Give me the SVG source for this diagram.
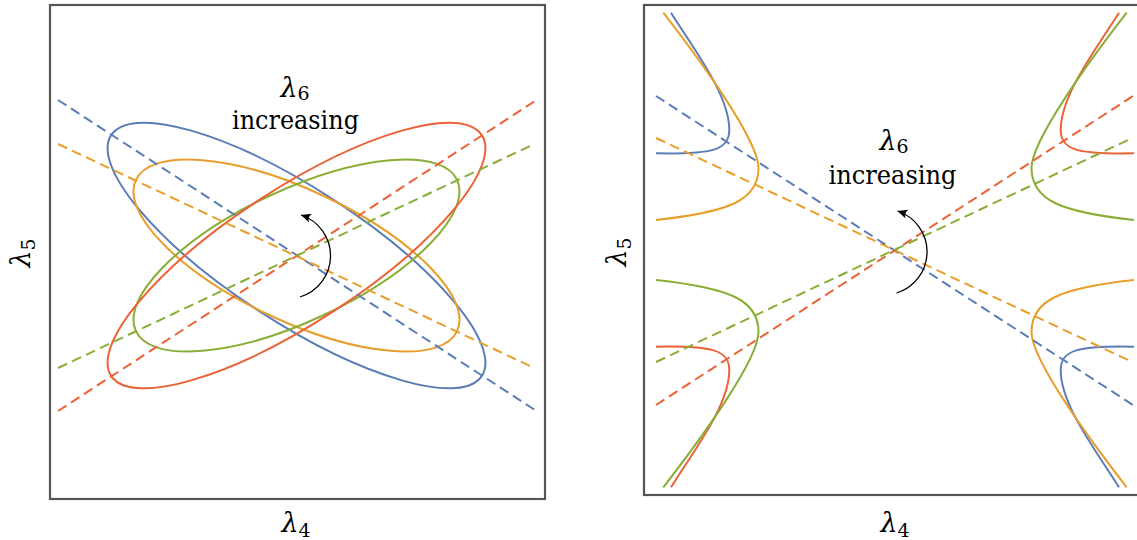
<svg xmlns="http://www.w3.org/2000/svg" width="1137" height="540" viewBox="0 0 1137 540">
<style>
.frame{fill:none;stroke:#555;stroke-width:2.2}
.dash{fill:none;stroke-width:2;stroke-dasharray:10 5.5}
.curve{fill:none;stroke-width:2}
.b{stroke:#5A7DB7}
.o{stroke:#E89E2A}
.r{stroke:#EC6135}
.g{stroke:#88AE36}
.arrow{fill:none;stroke:#000;stroke-width:1.3}
.t{font-family:"DejaVu Serif","Liberation Serif",serif;fill:#000}
.lam{font-style:italic}
</style>
<defs>
<marker id="ah" markerUnits="userSpaceOnUse" markerWidth="14" markerHeight="12" viewBox="-11 -6 13 12" refX="0" refY="0" orient="auto">
<path d="M0,0 L-10,-4.5 Q-6.5,0 -10,4.5 Z" fill="#000"/>
</marker>
<path id="hb" d="M671,12.7 C695,51 729.3,95 729.3,130 C729.3,150 712,154.5 656,153.3"/>
<path id="ho" d="M663.3,12.7 C700,60 758.5,140 758.5,168 C758.5,200 730,212 656,220"/>
</defs>

<g id="left-panel">
<rect class="frame" x="50" y="5" width="495" height="494"/>
<g id="left-ellipses">
<ellipse class="curve b" cx="296.5" cy="255.5" rx="221" ry="67" transform="rotate(33 296.5 255.5)"/>
<ellipse class="curve o" cx="296.5" cy="255.5" rx="177.5" ry="65.5" transform="rotate(25.2 296.5 255.5)"/>
<ellipse class="curve g" cx="296.5" cy="255.5" rx="177.5" ry="65.5" transform="rotate(-25.2 296.5 255.5)"/>
<ellipse class="curve r" cx="296.5" cy="255.5" rx="221" ry="67" transform="rotate(-33 296.5 255.5)"/>
</g>
<g id="left-lines">
<line class="dash b" x1="58" y1="100" x2="535" y2="410"/>
<line class="dash o" x1="58" y1="144" x2="530" y2="366"/>
<line class="dash r" x1="58" y1="411" x2="535" y2="101"/>
<line class="dash g" x1="58" y1="368" x2="530" y2="146"/>
</g>
<g id="left-arrow">
<path class="arrow" d="M300,297 A43,43 0 0 0 301,215" marker-end="url(#ah)"/>
</g>
<g id="left-label">
<text class="t" x="295" y="97" font-size="27" text-anchor="middle"><tspan class="lam">λ</tspan><tspan font-size="19" dy="3">6</tspan></text>
<text class="t" x="295.5" y="129" font-size="26" text-anchor="middle" textLength="127" lengthAdjust="spacingAndGlyphs">increasing</text>
</g>
<text class="t" x="296" y="532" font-size="27" text-anchor="middle"><tspan class="lam">λ</tspan><tspan font-size="19" dy="5">4</tspan></text>
<text class="t" transform="translate(30,253) rotate(-90)" font-size="27" text-anchor="middle"><tspan class="lam">λ</tspan><tspan font-size="19" dy="5">5</tspan></text>
</g>

<g id="right-panel">
<rect class="frame" x="644" y="5" width="496" height="490"/>
<g id="right-hyperbolas">
<use href="#hb" class="curve b"/>
<use href="#hb" class="curve b" transform="rotate(180 895 250)"/>
<use href="#ho" class="curve o"/>
<use href="#ho" class="curve o" transform="rotate(180 895 250)"/>
<use href="#hb" class="curve r" transform="matrix(-1 0 0 1 1790 0)"/>
<use href="#hb" class="curve r" transform="matrix(1 0 0 -1 0 500)"/>
<use href="#ho" class="curve g" transform="matrix(-1 0 0 1 1790 0)"/>
<use href="#ho" class="curve g" transform="matrix(1 0 0 -1 0 500)"/>
</g>
<g id="right-lines">
<line class="dash b" x1="656" y1="96" x2="1133" y2="405"/>
<line class="dash o" x1="656" y1="138" x2="1128" y2="360"/>
<line class="dash r" x1="656" y1="405" x2="1133" y2="96"/>
<line class="dash g" x1="656" y1="362" x2="1128" y2="140"/>
</g>
<g id="right-arrow">
<path class="arrow" d="M896.5,293 A43,43 0 0 0 897.5,211" marker-end="url(#ah)"/>
</g>
<g id="right-label">
<text class="t" x="894" y="150" font-size="27" text-anchor="middle"><tspan class="lam">λ</tspan><tspan font-size="19" dy="3">6</tspan></text>
<text class="t" x="892.5" y="184" font-size="26" text-anchor="middle" textLength="128" lengthAdjust="spacingAndGlyphs">increasing</text>
</g>
<text class="t" x="895" y="532" font-size="27" text-anchor="middle"><tspan class="lam">λ</tspan><tspan font-size="19" dy="5">4</tspan></text>
<text class="t" transform="translate(626,252) rotate(-90)" font-size="27" text-anchor="middle"><tspan class="lam">λ</tspan><tspan font-size="19" dy="5">5</tspan></text>
</g>
</svg>
